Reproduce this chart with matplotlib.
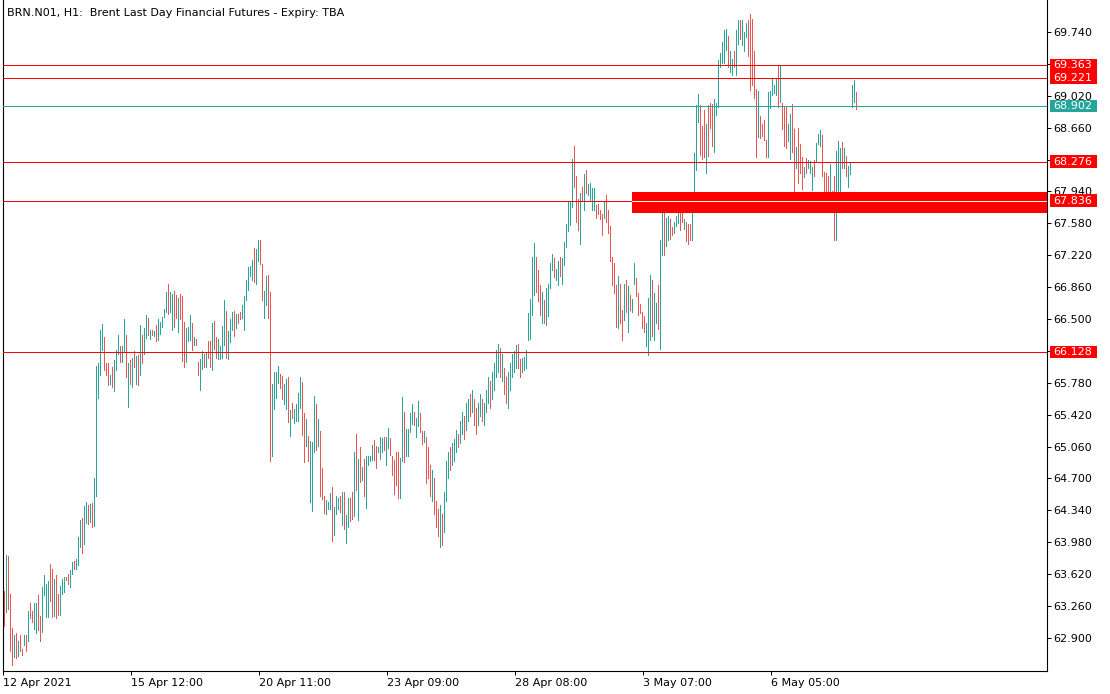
import matplotlib
matplotlib.use("Agg")
import matplotlib.pyplot as plt
import matplotlib.transforms as mtransforms
from matplotlib.patches import Rectangle
import numpy as np

# H1 bars: high, low and direction (1 = up bar, 0 = down bar)
highs = [
    63.43, 63.84, 63.82, 63.40, 63.01, 62.93, 62.96, 62.87, 62.93, 62.78,
    62.93, 62.93, 63.20, 63.30, 63.20, 63.30, 63.30, 63.38, 63.15, 63.48,
    63.61, 63.51, 63.54, 63.74, 63.68, 63.56, 63.61, 63.40, 63.49, 63.56,
    63.59, 63.59, 63.62, 63.67, 63.76, 63.77, 63.79, 64.04, 64.23, 64.25,
    64.39, 64.44, 64.40, 64.41, 64.42, 64.70, 65.97, 66.00, 66.38, 66.44,
    66.30, 66.00, 66.00, 65.87, 65.96, 66.04, 66.15, 66.32, 66.19, 66.20,
    66.50, 66.32, 66.00, 66.04, 66.06, 66.14, 66.08, 66.09, 66.43, 66.32,
    66.40, 66.54, 66.51, 66.38, 66.38, 66.37, 66.43, 66.50, 66.47, 66.52,
    66.61, 66.80, 66.89, 66.80, 66.78, 66.82, 66.77, 66.74, 66.78, 66.76,
    66.47, 66.40, 66.41, 66.54, 66.45, 66.30, 66.28, 66.02, 66.05, 66.14,
    66.11, 66.13, 66.25, 66.25, 66.46, 66.48, 66.30, 66.27, 66.19, 66.42,
    66.72, 66.59, 66.36, 66.50, 66.58, 66.59, 66.56, 66.56, 66.58, 66.66,
    66.76, 66.94, 67.09, 67.10, 67.17, 67.30, 67.29, 67.39, 67.39, 67.12,
    66.82, 66.98, 67.00, 66.80, 65.77, 65.90, 65.90, 65.97, 65.88, 65.86,
    65.77, 65.82, 65.84, 65.47, 65.55, 65.49, 65.54, 65.67, 65.85, 65.79,
    65.44, 65.37, 65.18, 65.12, 65.11, 65.63, 65.54, 65.37, 65.24, 64.82,
    64.50, 64.46, 64.43, 64.54, 64.60, 64.38, 64.50, 64.48, 64.50, 64.55,
    64.55, 64.29, 64.48, 64.48, 64.55, 65.00, 65.20, 64.92, 65.06, 64.83,
    64.92, 64.95, 64.95, 64.95, 65.08, 65.13, 65.07, 65.06, 65.17, 65.16,
    65.17, 65.17, 65.27, 65.16, 64.95, 64.91, 65.00, 65.00, 64.93, 65.62,
    65.45, 65.26, 65.26, 65.44, 65.54, 65.45, 65.38, 65.57, 65.44, 65.24,
    65.24, 65.17, 65.05, 64.85, 64.80, 64.70, 64.45, 64.35, 64.40, 64.30,
    64.55, 64.90, 65.00, 65.05, 65.10, 65.15, 65.25, 65.20, 65.35, 65.45,
    65.40, 65.55, 65.60, 65.65, 65.70, 65.60, 65.50, 65.55, 65.65, 65.60,
    65.55, 65.70, 65.85, 65.80, 65.90, 66.00, 66.15, 66.22, 66.17, 66.10,
    65.95, 65.85, 65.90, 66.00, 66.10, 66.14, 66.21, 66.22, 66.05, 66.06,
    66.07, 66.15, 66.57, 66.73, 67.20, 67.36, 67.20, 67.05, 66.88, 66.81,
    66.72, 66.85, 66.90, 67.13, 67.23, 67.19, 67.07, 67.16, 67.20, 67.19,
    67.37, 67.57, 67.83, 67.83, 68.31, 68.45, 68.11, 67.86, 67.92, 67.99,
    68.14, 68.18, 68.02, 68.03, 67.98, 67.98, 67.79, 67.80, 67.73, 67.69,
    67.83, 67.90, 67.73, 67.55, 67.20, 67.13, 66.88, 66.98, 66.90, 66.60,
    66.90, 66.94, 66.87, 66.77, 66.73, 67.13, 66.96, 66.79, 66.67, 66.58,
    66.53, 66.46, 66.74, 67.00, 66.94, 66.79, 66.68, 66.88, 67.39, 67.82,
    67.82, 67.64, 67.66, 67.63, 67.54, 67.60, 67.66, 67.75, 67.75, 67.75,
    67.63, 67.59, 67.57, 67.57, 67.87, 68.37, 68.92, 69.04, 68.92, 68.68,
    68.86, 68.70, 68.92, 68.94, 68.93, 68.98, 68.94, 69.42, 69.50, 69.63,
    69.76, 69.77, 69.69, 69.53, 69.43, 69.52, 69.76, 69.87, 69.87, 69.87,
    69.74, 69.84, 69.88, 69.94, 69.89, 69.52, 69.10, 69.07, 68.79, 68.70,
    68.75, 68.52, 69.06, 69.07, 69.22, 69.14, 69.22, 69.37, 69.37, 68.94,
    68.90, 68.90, 68.70, 68.81, 68.93, 68.65, 68.44, 68.66, 68.48, 68.33,
    68.22, 68.32, 68.29, 68.28, 68.22, 68.29, 68.49, 68.59, 68.63, 68.58,
    68.16, 68.15, 68.12, 68.25, 67.95, 68.11, 68.40, 68.51, 68.43, 68.50,
    68.43, 68.34, 68.23, 68.26, 69.14, 69.20, 69.06,
]
lows = [
    63.04, 63.19, 63.23, 62.75, 62.60, 62.68, 62.67, 62.70, 62.75, 62.71,
    62.82, 62.75, 62.87, 63.13, 63.08, 63.00, 62.96, 62.99, 62.86, 62.97,
    63.39, 63.14, 63.14, 63.32, 63.14, 63.15, 63.13, 63.16, 63.16, 63.40,
    63.42, 63.55, 63.51, 63.47, 63.62, 63.68, 63.68, 63.72, 63.93, 63.86,
    63.96, 64.20, 64.19, 64.21, 64.15, 64.16, 64.50, 65.61, 65.87, 66.15,
    65.93, 65.87, 65.76, 65.77, 65.73, 65.69, 65.93, 66.11, 66.02, 66.01,
    66.13, 65.85, 65.51, 65.77, 65.73, 65.96, 65.77, 65.75, 65.87, 66.00,
    66.11, 66.29, 66.32, 66.28, 66.32, 66.31, 66.25, 66.26, 66.33, 66.41,
    66.52, 66.58, 66.56, 66.58, 66.38, 66.41, 66.51, 66.35, 66.50, 66.03,
    65.96, 66.01, 66.25, 66.26, 66.15, 66.21, 66.21, 65.87, 65.70, 65.94,
    65.96, 65.96, 66.06, 65.96, 65.92, 66.16, 66.06, 66.05, 66.05, 66.06,
    66.21, 66.06, 66.05, 66.24, 66.38, 66.31, 66.40, 66.45, 66.50, 66.51,
    66.38, 66.72, 66.83, 66.99, 66.94, 66.92, 66.90, 67.15, 67.12, 66.71,
    66.51, 66.66, 66.51, 64.90, 64.95, 65.49, 65.61, 65.78, 65.72, 65.60,
    65.54, 65.48, 65.34, 65.18, 65.38, 65.33, 65.35, 65.35, 65.50, 65.19,
    64.89, 65.07, 64.90, 64.43, 64.33, 65.00, 65.02, 65.07, 64.50, 64.47,
    64.31, 64.30, 64.35, 64.35, 64.00, 64.06, 64.30, 64.35, 64.32, 64.17,
    64.13, 63.97, 64.15, 64.22, 64.24, 64.28, 64.57, 64.23, 64.66, 64.68,
    64.50, 64.37, 64.85, 64.90, 64.91, 64.91, 64.82, 65.00, 64.92, 65.00,
    65.02, 64.85, 65.04, 64.96, 64.74, 64.53, 64.63, 64.48, 64.48, 64.90,
    64.89, 64.95, 64.95, 65.22, 65.32, 65.30, 65.17, 65.29, 65.23, 65.09,
    65.11, 64.65, 64.70, 64.50, 64.45, 64.30, 64.15, 64.05, 63.93, 63.95,
    64.10, 64.45, 64.70, 64.80, 64.85, 64.90, 65.00, 65.05, 65.10, 65.20,
    65.15, 65.25, 65.35, 65.40, 65.45, 65.30, 65.20, 65.30, 65.40, 65.35,
    65.30, 65.45, 65.55, 65.50, 65.60, 65.70, 65.85, 65.90, 65.85, 65.80,
    65.65, 65.55, 65.50, 65.70, 65.85, 65.90, 65.95, 65.95, 65.85, 65.90,
    65.92, 65.95, 66.26, 66.28, 66.55, 66.77, 66.81, 66.70, 66.55, 66.45,
    66.45, 66.43, 66.53, 66.85, 67.05, 66.97, 66.94, 66.88, 66.98, 66.90,
    67.11, 67.31, 67.49, 67.56, 67.77, 67.99, 67.59, 67.51, 67.35, 67.84,
    67.73, 67.92, 67.90, 67.84, 67.73, 67.73, 67.64, 67.69, 67.63, 67.45,
    67.64, 67.59, 67.47, 67.15, 66.88, 66.79, 66.41, 66.40, 66.46, 66.26,
    66.49, 66.58, 66.35, 66.60, 66.58, 66.90, 66.76, 66.55, 66.57, 66.40,
    66.35, 66.19, 66.09, 66.26, 66.31, 66.26, 66.45, 66.39, 66.16, 67.22,
    67.22, 67.32, 67.39, 67.40, 67.45, 67.47, 67.55, 67.58, 67.51, 67.59,
    67.52, 67.38, 67.35, 67.39, 67.39, 67.74, 68.18, 68.72, 68.35, 68.31,
    68.33, 68.15, 68.34, 68.66, 68.45, 68.39, 68.80, 68.89, 69.34, 69.39,
    69.39, 69.54, 69.34, 69.29, 69.25, 69.35, 69.25, 69.60, 69.66, 69.59,
    69.53, 69.68, 69.47, 69.09, 69.14, 68.99, 68.33, 68.55, 68.54, 68.57,
    68.52, 68.33, 68.33, 68.88, 69.03, 69.05, 69.03, 68.89, 68.95, 68.65,
    68.45, 68.43, 68.51, 68.31, 68.39, 67.93, 68.20, 68.03, 68.15, 67.97,
    68.10, 68.15, 68.21, 68.15, 67.96, 68.12, 68.27, 68.47, 68.45, 68.12,
    67.91, 67.81, 67.81, 67.92, 67.85, 67.39, 67.39, 67.73, 67.93, 68.21,
    68.20, 68.11, 67.99, 68.14, 68.89, 68.95, 68.87,
]
up = [
    0, 1, 0, 0, 0, 1, 0, 1, 0, 0,  1, 0, 1, 0, 0, 1, 1, 0, 0, 1,
    1, 1, 1, 0, 0, 1, 0, 0, 1, 1,  1, 0, 0, 1, 1, 0, 1, 1, 1, 0,
    1, 1, 0, 1, 0, 1, 1, 1, 1, 1,  0, 0, 0, 1, 0, 1, 1, 1, 0, 1,
    1, 0, 1, 0, 1, 0, 1, 0, 1, 0,  1, 1, 0, 1, 0, 1, 0, 1, 1, 1,
    1, 1, 0, 1, 1, 0, 0, 1, 0, 0,  0, 1, 1, 1, 0, 1, 0, 0, 1, 1,
    0, 1, 0, 0, 1, 0, 0, 1, 1, 1,  1, 0, 1, 1, 1, 0, 1, 0, 0, 1,
    1, 1, 1, 1, 1, 0, 1, 1, 0, 0,  1, 1, 0, 0, 1, 1, 1, 1, 0, 0,
    1, 1, 0, 1, 0, 1, 1, 1, 1, 0,  0, 1, 0, 1, 1, 1, 0, 1, 0, 0,
    0, 1, 1, 1, 0, 1, 1, 1, 0, 1,  0, 1, 1, 0, 0, 1, 0, 1, 0, 1,
    0, 1, 1, 1, 1, 0, 0, 1, 1, 1,  0, 1, 1, 0, 0, 0, 0, 0, 1, 1,
    0, 1, 1, 1, 1, 0, 1, 1, 0, 0,  1, 0, 0, 0, 1, 0, 0, 0, 1, 0,
    1, 1, 1, 0, 1, 1, 1, 0, 1, 1,  0, 1, 1, 0, 1, 0, 0, 1, 1, 0,
    1, 1, 1, 0, 1, 1, 1, 1, 0, 1,  0, 0, 1, 1, 1, 1, 1, 0, 0, 1,
    1, 1, 1, 1, 1, 1, 0, 0, 0, 1,  0, 1, 1, 1, 1, 0, 1, 1, 0, 1,
    1, 1, 1, 1, 1, 0, 0, 0, 1, 0,  1, 0, 1, 1, 1, 1, 0, 0, 0, 0,
    1, 0, 0, 0, 0, 0, 0, 1, 0, 0,  1, 0, 1, 0, 1, 1, 0, 0, 0, 0,
    0, 1, 1, 1, 0, 1, 1, 0, 1, 1,  0, 1, 1, 0, 0, 1, 1, 1, 0, 0,
    1, 0, 0, 0, 1, 1, 1, 1, 0, 0,  0, 1, 0, 0, 0, 1, 1, 1, 1, 1,
    1, 1, 0, 1, 1, 0, 1, 1, 0, 1,  1, 1, 0, 0, 0, 0, 0, 1, 0, 0,
    0, 0, 1, 1, 1, 1, 1, 0, 1, 0,  0, 0, 1, 1, 0, 0, 1, 0, 0, 0,
    1, 0, 1, 1, 1, 0, 1, 1, 1, 0,  0, 0, 0, 1, 0, 0, 1, 1, 1, 0,
    1, 0, 1, 1, 1, 1, 0,
]

time_labels = ["12 Apr 2021", "15 Apr 12:00", "20 Apr 11:00", "23 Apr 09:00",
               "28 Apr 08:00", "3 May 07:00", "6 May 05:00"]
label_bars = [0, 64, 128, 192, 256, 320, 384]
price_ticks = [62.90, 63.26, 63.62, 63.98, 64.34, 64.70, 65.06, 65.42, 65.78, 66.14,
               66.50, 66.86, 67.22, 67.58, 67.94, 68.30, 68.66, 69.02, 69.38, 69.74]

levels = [69.363, 69.221, 68.902, 68.276, 67.836, 66.128]
level_kind = ["res", "res", "bid", "res", "res", "res"]
zone_top, zone_bottom = 67.934, 67.697
zone_start = 313.85   # bar index where the zone begins

UP_COL = "#26a69a"
DN_COL = "#ef5350"
RED = "#ff0000"

W, H = 1110, 694
fig = plt.figure(figsize=(W / 100, H / 100), dpi=100)
ax = fig.add_axes([2.5 / W, 23 / H, 1044.5 / W, 671 / H])

x = np.arange(len(highs))
cols = [UP_COL if u else DN_COL for u in up]
ax.vlines(x, lows, highs, colors=cols, linewidth=0.6, antialiased=False, zorder=2)

ax.set_xlim(-0.9, 521.35)
ax.set_ylim(62.527, 70.101)

# support / resistance zone
ax.add_patch(Rectangle((zone_start, zone_bottom), 600, zone_top - zone_bottom,
                       facecolor=RED, edgecolor="none", zorder=4))

for p, kind in zip(levels, level_kind):
    c = UP_COL if kind == "bid" else RED
    if p == 67.836:
        ax.plot([-5, zone_start], [p, p], color=RED, lw=0.72, zorder=5)
        ax.plot([zone_start, 600], [p, p], color="white", lw=0.72, zorder=5)
    else:
        ax.axhline(p, color=c, lw=0.72, zorder=5)

# price tags on the right scale
blend = mtransforms.blended_transform_factory(fig.transFigure, ax.transData)
box_h = 12.5 * (70.101 - 62.527) / 671
for p, kind in zip(levels, level_kind):
    c = UP_COL if kind == "bid" else RED
    ax.add_patch(Rectangle((1050 / W, p - box_h / 2), 47 / W, box_h, transform=blend,
                           facecolor=c, edgecolor="none", clip_on=False, zorder=10))
    ax.text(1053 / W, p, f"{p:.3f}", transform=blend, color="white", fontsize=8,
            va="center", ha="left", clip_on=False, zorder=11)

ax.yaxis.tick_right()
ax.set_yticks(price_ticks)
ax.set_yticklabels([f"{t:.3f}" for t in price_ticks])
ax.tick_params(axis="y", direction="out", length=3, width=0.72, pad=1.5, labelsize=8)

ax.set_xticks(np.array(label_bars) - 0.7)
ax.set_xticklabels(time_labels, ha="left")
ax.tick_params(axis="x", direction="out", length=3, width=0.72, pad=2, labelsize=8)

for s in ["left", "right", "bottom"]:
    ax.spines[s].set_linewidth(0.8)
    ax.spines[s].set_color("black")
ax.spines["top"].set_visible(False)

fig.text(7 / W, 1 - 13 / H, "BRN.N01, H1:  Brent Last Day Financial Futures - Expiry: TBA",
         fontsize=8, va="center", ha="left")

fig.savefig("out.png", dpi=100)
